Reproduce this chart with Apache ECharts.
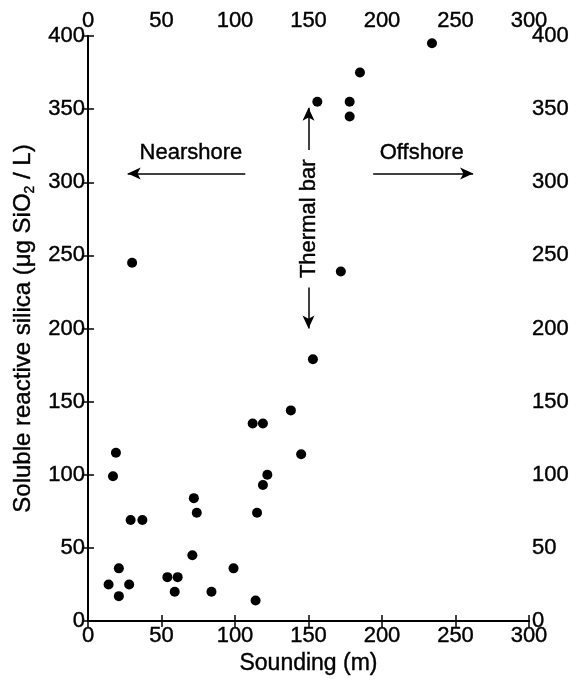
<!DOCTYPE html>
<html>
<head>
<meta charset="utf-8">
<script src="https://cdn.jsdelivr.net/npm/echarts@6/dist/echarts.min.js"></script>
<style>
html,body{margin:0;padding:0;background:#fff;}
#c{width:577px;height:685px;}
</style>
</head>
<body>
<div id="c"></div>
<script>
// Data
const sounding = [14,21,21,28,19,17,29,37,54,61,59,72,74,71,84,99,114,112,119,122,119,115,145,138,30,153,172,234,185,156,178,178];
const silica   = [25,17,36,25,115,99,69,69,30,30,20,84,74,45,20,36,14,135,135,100,93,74,114,144,245,179,239,395,375,355,355,345];

const xTicks = [0,50,100,150,200,250,300];
const yTicks = [0,50,100,150,200,250,300,350,400];

// Annotations (data coordinates)
const nearshoreLabel = {text:'Nearshore', x:70, y:320};
const offshoreLabel = {text:'Offshore', x:227, y:320};
const thermalLabel = {text:'Thermal bar', x:150, y:275};
const nearshoreArrow = [[107,306],[27,306]];
const offshoreArrow = [[194,306],[262,306]];
const thermalUp = [[150,322],[150,351]];
const thermalDown = [[150,228],[150,200]];

const FONT = "'Liberation Sans', Arial, Helvetica, sans-serif";
const TB = {textBorderColor:'#000', textBorderWidth:0.4};
const points = sounding.map((s,i)=>[s, silica[i]]);

function xAxisCfg(pos){
  return {
    type:'value', position:pos, min:xTicks[0], max:xTicks[xTicks.length-1], interval:50,
    axisLine:{show:true, lineStyle:{color:'#000', width:2}},
    axisTick:{show:true, inside:true, length:6, lineStyle:{color:'#000', width:1.5}},
    axisLabel:Object.assign({show:true, color:'#000', fontSize:22, fontFamily:FONT, margin:4}, TB),
    splitLine:{show:false}
  };
}
function yAxisCfg(pos){
  return {
    type:'value', position:pos, min:yTicks[0], max:yTicks[yTicks.length-1], interval:50,
    axisLine:{show:true, lineStyle:{color:'#000', width:2}},
    axisTick:{show:true, inside:true, length:6, lineStyle:{color:'#000', width:1.5}},
    axisLabel:Object.assign({show:true, color:'#000', fontSize:22, fontFamily:FONT, margin:3}, TB),
    splitLine:{show:false}
  };
}

const xBottom = Object.assign(xAxisCfg('bottom'), {
  name:'Sounding (m)', nameLocation:'middle', nameGap:31,
  nameTextStyle:Object.assign({color:'#000', fontSize:23, fontFamily:FONT}, TB)
});
const xTop = xAxisCfg('top');
const yLeft = Object.assign(yAxisCfg('left'), {
  name:'Soluble reactive silica (μg SiO{sub|2} / L)', nameLocation:'middle', nameGap:52,
  nameTextStyle:Object.assign({color:'#000', fontSize:24, fontFamily:FONT, lineHeight:28, verticalAlign:'top',
    rich:{sub:Object.assign({fontSize:14, lineHeight:14, padding:[14,0,0,0], verticalAlign:'top', fontFamily:FONT, color:'#000'}, TB)}}, TB)
});
const yRight = yAxisCfg('right');

function arrowLine(seg){
  return [{coord:seg[0], symbol:'none'},{coord:seg[1], symbol:'arrow', symbolSize:[9,13]}];
}
function textPoint(t, rot){
  return {coord:[t.x,t.y], symbol:'circle', symbolSize:0,
    label:Object.assign({show:true, position:'inside', formatter:t.text, color:'#000', fontSize:22, fontFamily:FONT, rotate:rot||0}, TB)};
}

const option = {
  animation:false,
  backgroundColor:'#fff',
  grid:{left:88, right:48, top:36, bottom:64, containLabel:false},
  xAxis:[xBottom, xTop],
  yAxis:[yLeft, yRight],
  series:[{
    type:'scatter',
    data:points,
    symbol:'circle',
    symbolSize:10,
    itemStyle:{color:'#000', opacity:1},
    markLine:{
      silent:true,
      lineStyle:{color:'#000', width:1.5, type:'solid', opacity:1},
      label:{show:false},
      data:[arrowLine(nearshoreArrow), arrowLine(offshoreArrow), arrowLine(thermalUp), arrowLine(thermalDown)]
    },
    markPoint:{
      silent:true,
      data:[textPoint(nearshoreLabel), textPoint(offshoreLabel), textPoint(thermalLabel, 90)]
    }
  }]
};

const chart = echarts.init(document.getElementById('c'), null, {renderer:'canvas'});
chart.setOption(option);
</script>
</body>
</html>
